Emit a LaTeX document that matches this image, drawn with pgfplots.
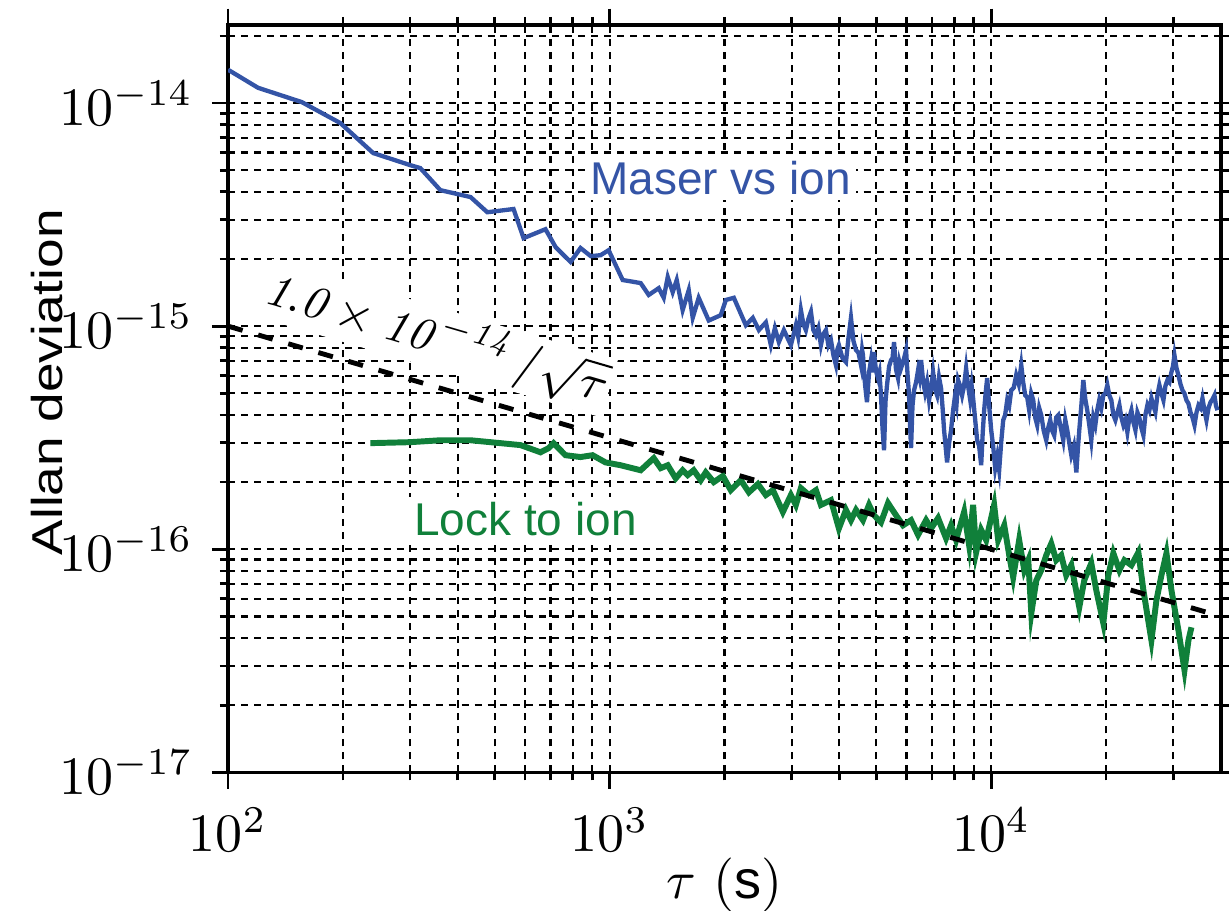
\documentclass[border=0pt]{standalone}
\usepackage{graphicx}
\usepackage{pgfplots}
\pgfplotsset{compat=1.18}
\usepackage{fontspec}
\setsansfont{Liberation Sans}
\definecolor{maserblue}{RGB}{52,84,166}
\definecolor{lockgreen}{RGB}{16,128,58}

\begin{document}
\begin{tikzpicture}
\useasboundingbox (-42.2pt,-25.6pt) rectangle (185.2pt,142.9pt);
\begin{axis}[
  scale only axis,
  width=183.7pt, height=138.3pt,
  xmode=log, ymode=log,
  xmin=100, xmax=40000,
  ymin=1e-17, ymax=2.24e-14,
  xtick={100,1000,10000},
  ytick={1e-17,1e-16,1e-15,1e-14},
  minor xtick={200,300,400,500,600,700,800,900,2000,3000,4000,5000,6000,7000,8000,9000,20000,30000},
  minor ytick={2e-17,3e-17,4e-17,5e-17,6e-17,7e-17,8e-17,9e-17,2e-16,3e-16,4e-16,5e-16,6e-16,7e-16,8e-16,9e-16,2e-15,3e-15,4e-15,5e-15,6e-15,7e-15,8e-15,9e-15,2e-14},
  grid=both,
  major grid style={black, line width=0.4pt, dash pattern=on 1.3pt off 1.1pt},
  minor grid style={black, line width=0.4pt, dash pattern=on 1.3pt off 1.1pt},
  tick align=outside,
  major tick length=3pt,
  minor tick length=1.5pt,
  tick style={black, line width=0.5pt},
  axis line style={line width=0.6pt},
  xlabel={$\tau$ (\textsf{s})},
  ylabel={\scalebox{1.23}[1]{\sffamily\fontsize{8}{9.5}\selectfont Allan deviation}},
  xlabel style={at={(axis description cs:0.5,-0.151)}, anchor=center},
  ylabel style={at={(axis description cs:-0.182,0.522)}, anchor=center},
]
% maser vs ion
\addplot[maserblue, line width=0.8pt] coordinates {
(100,1.41e-14) (119.9,1.17e-14) (156,1.01e-14) (197,8.13e-15) (240,5.97e-15)
(300,5.27e-15) (319,5.11e-15) (360,4.07e-15) (432,3.79e-15) (478,3.24e-15)
(560,3.35e-15) (595,2.48e-15) (679,2.72e-15) (722,2.26e-15) (790,1.94e-15)
(839,2.24e-15) (892,2.06e-15) (947,2.08e-15) (994,2.19e-15) (1082,1.61e-15)
(1206,1.56e-15) (1266,1.38e-15) (1345,1.48e-15) (1386,1.34e-15) (1420,1.66e-15)
(1463,1.42e-15) (1499,1.61e-15) (1554,1.18e-15) (1612,1.45e-15) (1651,1.09e-15)
(1712,1.34e-15) (1819,1.06e-15) (1956,1.12e-15) (2016,1.31e-15) (2116,1.34e-15)
(2275,1.01e-15) (2373,1.09e-15) (2461,9.60e-16) (2567,1.04e-15) (2646,8.22e-16)
(2711,9.80e-16) (2777,8.48e-16) (2862,9.60e-16) (2986,8.22e-16)
(3077,1.01e-15) (3120,9.0e-16) (3172,1.18e-15) (3220,1.02e-15) (3269,9.60e-16)
(3320,1.08e-15) (3370,1.16e-15) (3420,9.6e-16) (3473,9.11e-16) (3525,9.8e-16)
(3579,8.22e-16) (3630,9.2e-16) (3689,9.60e-16) (3745,8.2e-16) (3802,8.66e-16)
(3860,7.4e-16) (3919,6.69e-16) (3955,7.9e-16) (3990,8.22e-16) (4075,7.2e-16)
(4163,6.90e-16) (4225,8.8e-16) (4291,1.09e-15) (4355,8.6e-16) (4423,7.81e-16)
(4490,7.6e-16) (4558,6.69e-16) (4590,7.8e-16) (4613,7.41e-16) (4670,5.5e-16)
(4726,4.56e-16) (4785,6.2e-16) (4842,7.04e-16) (4885,6.2e-16) (4931,7.65e-16)
(4990,6.3e-16) (5051,5.85e-16) (5095,6.2e-16) (5143,4.90e-16) (5190,3.5e-16)
(5238,2.78e-16) (5285,4.6e-16) (5333,5.44e-16) (5400,6.6e-16) (5464,7.04e-16)
(5515,7.2e-16) (5564,8.48e-16) (5630,6.4e-16) (5700,5.85e-16) (5750,6.9e-16)
(5805,6.48e-16) (5890,7.0e-16) (5983,7.81e-16) (6040,6.0e-16) (6093,4.90e-16)
(6130,3.6e-16) (6166,2.84e-16) (6220,4.4e-16) (6279,5.16e-16) (6355,5.6e-16)
(6433,6.35e-16) (6490,5.9e-16) (6551,7.04e-16) (6630,5.7e-16) (6711,5.06e-16)
(6790,5.6e-16) (6875,4.66e-16) (6960,5.3e-16) (7043,6.22e-16) (7130,5.2e-16)
(7215,4.90e-16) (7300,5.9e-16) (7391,5.27e-16) (7460,4.3e-16) (7526,3.42e-16)
(7595,2.9e-16) (7664,2.45e-16) (7760,3.0e-16) (7852,3.42e-16) (7950,4.2e-16)
(8043,4.90e-16) (8115,4.5e-16) (8191,5.73e-16) (8290,5.4e-16) (8391,4.90e-16)
(8490,5.4e-16) (8596,6.48e-16) (8700,5.4e-16) (8806,4.70e-16) (8890,5.4e-16)
(8968,4.75e-16) (9080,3.8e-16) (9190,3.08e-16) (9300,2.9e-16) (9415,2.38e-16)
(9500,3.3e-16) (9586,4.20e-16) (9670,5.0e-16) (9761,5.85e-16) (9880,4.4e-16)
(10000,3.42e-16) (10120,2.9e-16) (10245,2.31e-16) (10370,2.6e-16) (10495,2.26e-16)
(10620,3.0e-16) (10753,3.79e-16) (10880,4.0e-16) (11016,4.66e-16) (11150,4.4e-16)
(11286,5.16e-16) (11460,5.3e-16) (11630,6.03e-16) (11810,5.5e-16) (11990,6.69e-16)
(12130,5.6e-16) (12280,4.90e-16) (12430,4.8e-16) (12580,4.20e-16) (12730,5.0e-16)
(12890,4.66e-16) (13040,3.9e-16) (13200,3.60e-16) (13360,4.3e-16) (13530,3.99e-16)
(13730,3.4e-16) (13940,3.08e-16) (14110,3.5e-16) (14280,3.79e-16) (14450,3.4e-16)
(14630,3.24e-16) (14810,3.9e-16) (14990,3.99e-16) (15220,3.5e-16) (15450,3.08e-16)
(15640,3.8e-16) (15830,3.42e-16) (16020,3.0e-16) (16220,2.64e-16) (16470,2.9e-16)
(16720,2.21e-16) (16870,2.8e-16) (17020,3.42e-16) (17230,4.4e-16) (17440,5.73e-16)
(17650,4.7e-16) (17860,4.20e-16) (18080,3.6e-16) (18300,3.08e-16) (18520,3.9e-16)
(18750,3.60e-16) (18970,4.2e-16) (19200,4.66e-16) (19440,4.3e-16) (19680,4.90e-16)
(19920,5.0e-16) (20160,5.44e-16) (20400,4.9e-16) (20650,4.66e-16) (20900,4.0e-16)
(21160,3.79e-16) (21420,4.1e-16) (21680,4.42e-16) (21940,3.9e-16) (22210,3.60e-16)
(22480,3.8e-16) (22750,3.35e-16) (23030,3.9e-16) (23310,4.20e-16) (23600,3.7e-16)
(23880,3.42e-16) (24170,4.1e-16) (24470,3.87e-16) (24760,3.5e-16) (25060,3.24e-16)
(25360,4.0e-16) (25670,4.42e-16) (25980,4.2e-16) (26300,4.75e-16) (26620,4.4e-16)
(26940,4.12e-16) (27270,4.9e-16) (27600,5.44e-16) (27940,5.0e-16) (28280,4.66e-16)
(28620,5.4e-16) (28970,5.73e-16) (29320,5.6e-16) (29680,6.22e-16) (29950,6.6e-16)
(30220,7.41e-16) (30590,6.5e-16) (30960,6.03e-16) (31340,5.5e-16) (31720,5.16e-16)
(32100,5.0e-16) (32490,4.66e-16) (32890,4.5e-16) (33290,4.12e-16) (33700,3.9e-16)
(34110,3.60e-16) (34520,4.1e-16) (34940,4.42e-16) (35360,4.3e-16) (35790,4.75e-16)
(36230,4.2e-16) (36670,3.79e-16) (37120,4.3e-16) (37570,4.56e-16) (38020,4.7e-16)
(38480,4.90e-16) (38830,4.4e-16) (39190,4.20e-16)
};
% lock to ion
\addplot[lockgreen, line width=1.1pt] coordinates {
(236,2.99e-16) (300,3.02e-16) (360,3.08e-16) (432,3.08e-16) (487,3.02e-16)
(584,2.93e-16) (659,2.72e-16) (692,2.84e-16) (713,2.99e-16) (766,2.64e-16)
(839,2.59e-16) (902,2.64e-16) (976,2.45e-16) (1069,2.38e-16) (1206,2.26e-16)
(1305,2.56e-16) (1361,2.31e-16) (1420,2.38e-16) (1490,2.08e-16) (1554,2.26e-16)
(1602,2.15e-16) (1661,2.26e-16) (1733,2.04e-16) (1786,2.21e-16) (1875,2.00e-16)
(1980,2.13e-16) (2078,1.84e-16) (2207,2.04e-16) (2317,1.80e-16) (2447,1.96e-16)
(2567,1.75e-16) (2679,1.84e-16) (2845,1.47e-16) (2986,1.75e-16) (3077,1.58e-16)
(3172,1.88e-16) (3329,1.75e-16) (3473,1.84e-16) (3579,1.58e-16) (3802,1.66e-16)
(3990,1.24e-16) (4163,1.50e-16) (4291,1.35e-16) (4423,1.50e-16) (4613,1.35e-16)
(4784,1.58e-16) (4931,1.42e-16) (5143,1.32e-16) (5366,1.61e-16) (5632,1.42e-16)
(5875,1.28e-16) (6166,1.35e-16) (6433,1.16e-16) (6752,1.35e-16) (6960,1.24e-16)
(7259,1.38e-16) (7618,1.12e-16) (7852,1.28e-16) (8092,1.10e-16) (8494,1.47e-16)
(8756,1.04e-16) (8968,1.58e-16) (9134,9.69e-17) (9415,1.22e-16) (9703,1.10e-16)
(10180,1.58e-16) (10430,1.10e-16) (10820,1.28e-16) (11150,9.40e-17) (11420,7.49e-17)
(11840,1.10e-16) (12210,8.05e-17) (12510,8.93e-17) (12740,5.16e-17) (13130,7.26e-17)
(13530,8.05e-17) (13940,9.40e-17) (14370,1.06e-16) (14810,8.93e-17) (15260,9.40e-17)
(15730,7.65e-17) (16220,8.48e-17) (17020,5.50e-17) (17540,7.26e-17) (18300,8.66e-17)
(18860,6.55e-17) (19680,4.66e-17) (20280,7.65e-17) (20900,9.60e-17) (21680,8.05e-17)
(22340,8.93e-17) (23310,8.48e-17) (24310,9.69e-17) (25060,6.55e-17) (26300,3.91e-17)
(27110,5.91e-17) (27940,7.65e-17) (28800,9.60e-17) (29680,6.55e-17) (30960,4.33e-17)
(32110,2.87e-17) (32890,3.91e-17) (33490,4.47e-17)
};
% 1e-14/sqrt(tau) guide
\addplot[black, line width=0.9pt, dash pattern=on 2.8pt off 3pt] coordinates {
(100,1e-15) (38000,5.13e-17)
};
\node[fill=white, inner sep=1pt, text=maserblue, font=\sffamily\fontsize{8.5}{10}\selectfont]
  at (axis cs:1956,4.61e-15) {Maser vs ion};
\node[fill=white, inner sep=1pt, text=lockgreen, font=\sffamily\fontsize{8.5}{10}\selectfont]
  at (axis cs:602,1.36e-16) {Lock to ion};
\node[fill=white, inner sep=0.5pt, rotate=-16.3, font=\fontsize{8.6}{10}\selectfont]
  at (axis cs:352,8.84e-16) {$\mathit{1.0}\times\mathit{10}\kern1.2pt{}^{-\mathit{14}}\,/\sqrt{\tau}$};
\end{axis}
\end{tikzpicture}
\end{document}
